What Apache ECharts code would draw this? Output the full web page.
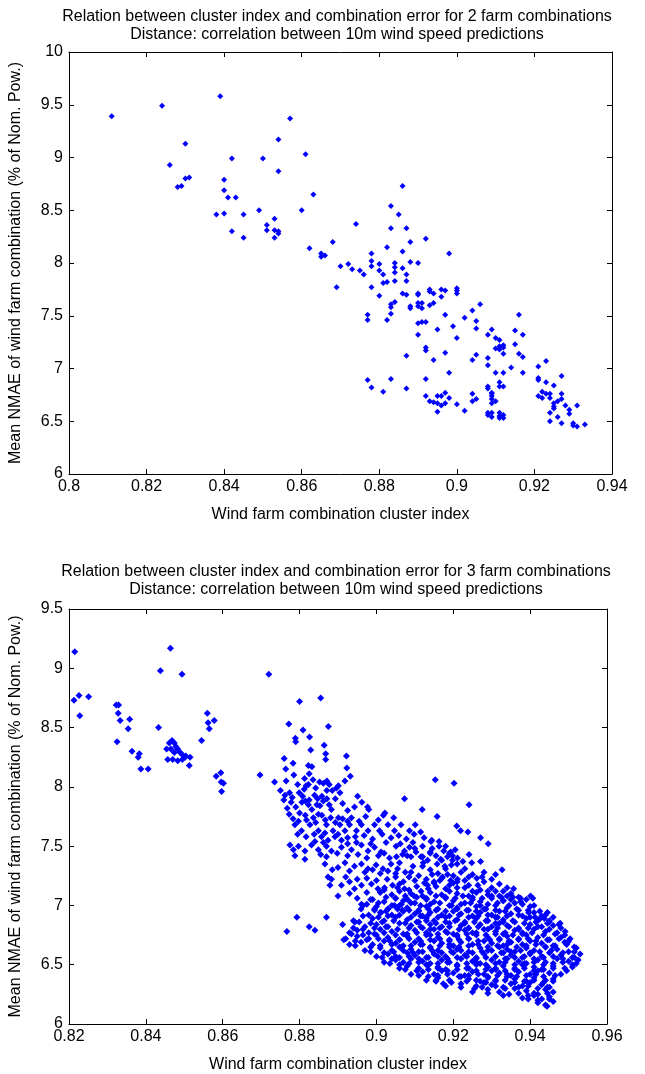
<!DOCTYPE html>
<html>
<head>
<meta charset="utf-8">
<script src="https://cdn.jsdelivr.net/npm/echarts@6/dist/echarts.min.js"></script>
<style>
html,body{margin:0;padding:0;background:#fff;}
#chart{width:645px;height:1074px;}
</style>
</head>
<body>
<div id="chart"></div>
<script>
// ---- Text ----
const topTitle = ['Relation between cluster index and combination error for 2 farm combinations', 'Distance: correlation between 10m wind speed predictions'];
const bottomTitle = ['Relation between cluster index and combination error for 3 farm combinations', 'Distance: correlation between 10m wind speed predictions'];
const xName = 'Wind farm combination cluster index';
const yName = 'Mean NMAE of wind farm combination (% of Nom. Pow.)';

// ---- Axis ranges ----
const topX = {min: 0.80, max: 0.94, interval: 0.02};
const topY = {min: 6, max: 10, interval: 0.5};
const botX = {min: 0.82, max: 0.96, interval: 0.02};
const botY = {min: 6, max: 9.5, interval: 0.5};

// ---- 2 farm combinations: [cluster index, mean NMAE] ----
const twoFarmPoints = [
[0.811,9.39],[0.824,9.49],[0.839,9.58],[0.857,9.37],[0.830,9.13],[0.854,9.17],[0.826,8.93],[0.842,8.99],[0.850,8.99],[0.861,9.03],[0.854,8.87],[0.840,8.79],[0.840,8.69],[0.841,8.62],[0.843,8.62],[0.828,8.72],[0.829,8.73],[0.830,8.80],[0.831,8.81],[0.863,8.65],[0.838,8.46],[0.840,8.47],[0.845,8.46],[0.849,8.50],[0.860,8.50],[0.842,8.30],[0.845,8.24],[0.853,8.42],[0.851,8.36],[0.851,8.31],[0.853,8.31],[0.854,8.30],[0.854,8.28],[0.853,8.24],[0.862,8.14],[0.865,8.09],[0.866,8.07],[0.865,8.06],[0.868,8.20],[0.870,7.97],[0.869,7.77],
[0.886,8.73],[0.883,8.54],[0.885,8.46],[0.883,8.33],[0.887,8.33],[0.874,8.37],[0.892,8.23],[0.888,8.20],[0.882,8.15],[0.886,8.11],[0.878,8.09],[0.898,8.09],[0.872,7.99],[0.873,7.94],[0.875,7.93],[0.876,7.89],[0.878,8.02],[0.880,7.99],[0.880,7.93],[0.881,7.89],[0.884,7.96],[0.884,8.00],[0.884,7.91],[0.886,7.95],[0.887,7.89],[0.888,8.01],[0.890,8.00],[0.887,7.83],[0.884,7.83],[0.881,7.81],[0.882,7.82],[0.878,7.77],[0.893,7.75],[0.896,7.75],[0.900,7.76],
[0.878,7.97],[0.880,7.69],[0.886,7.71],[0.887,7.70],[0.888,7.59],[0.888,7.57],[0.890,7.71],[0.890,7.70],[0.890,7.62],[0.890,7.59],[0.891,7.62],[0.891,7.57],[0.883,7.61],[0.884,7.63],[0.883,7.58],[0.883,7.52],[0.882,7.46],[0.877,7.51],[0.877,7.46],[0.893,7.73],[0.894,7.71],[0.893,7.60],[0.894,7.62],[0.896,7.68],[0.897,7.74],[0.900,7.74],[0.900,7.71],[0.897,7.51],[0.890,7.43],[0.891,7.44],[0.892,7.44],[0.895,7.37],[0.890,7.32],[0.899,7.40],[0.900,7.29],[0.902,7.48],[0.904,7.55],[0.906,7.61],[0.905,7.45],[0.905,7.38],[0.892,7.20],[0.892,7.17],[0.897,7.15],[0.894,7.08],[0.887,7.12],[0.904,7.08],[0.905,7.13],[0.908,7.32],[0.909,7.37],[0.910,7.29],[0.911,7.27],[0.911,7.21],[0.912,7.22],[0.912,7.20],[0.910,7.19],[0.911,7.18],[0.912,7.14],[0.916,7.51],[0.915,7.36],[0.917,7.32],[0.915,7.23],[0.916,7.14],[0.917,7.11],[0.908,7.10],[0.908,7.03],[0.914,7.01],[0.910,6.96],[0.912,6.96],[0.917,6.96],[0.898,6.96],[0.921,7.02],[0.923,7.07],[0.921,6.91],[0.921,6.89],[0.923,6.87],[0.925,6.84],[0.927,6.93],[0.911,6.87],[0.912,6.83],[0.911,6.83],
[0.877,6.89],[0.878,6.82],[0.881,6.78],[0.883,6.90],[0.887,6.81],[0.892,6.90],[0.892,6.74],[0.893,6.69],[0.894,6.68],[0.895,6.74],[0.896,6.74],[0.895,6.67],[0.896,6.65],[0.895,6.59],[0.897,6.77],[0.898,6.72],[0.897,6.67],[0.900,6.66],[0.902,6.60],[0.904,6.76],[0.904,6.69],[0.905,6.71],
[0.908,6.83],[0.908,6.81],[0.909,6.77],[0.909,6.74],[0.909,6.76],[0.909,6.71],[0.910,6.69],[0.909,6.67],
[0.908,6.58],[0.908,6.56],[0.909,6.58],[0.909,6.54],[0.911,6.58],[0.911,6.55],[0.912,6.53],[0.912,6.56],[0.911,6.53],
[0.922,6.78],[0.921,6.74],[0.923,6.76],[0.922,6.72],[0.924,6.76],[0.924,6.72],[0.925,6.67],[0.925,6.64],[0.927,6.76],[0.927,6.71],[0.926,6.69],[0.925,6.62],[0.924,6.58],[0.924,6.50],[0.926,6.54],[0.927,6.48],[0.928,6.65],[0.929,6.61],[0.929,6.57],[0.931,6.65],[0.930,6.48],[0.930,6.46],[0.931,6.45],[0.933,6.47]
];

// ---- 3 farm combinations: [cluster index, mean NMAE] ----
const threeFarmSparse = [
[0.8215,9.14],[0.8213,8.73],[0.8226,8.77],[0.8228,8.60],[0.8251,8.76],[0.8323,8.69],[0.8329,8.69],[0.8328,8.62],[0.8333,8.56],[0.8358,8.57],[0.8354,8.49],[0.8325,8.38],[0.8364,8.30],[0.8383,8.28],[0.8380,8.25],[0.8387,8.15],[0.8406,8.15],[0.8433,8.50],[0.8438,8.98],[0.8464,9.17],[0.8494,8.95],
[0.8468,8.39],[0.8461,8.37],[0.8474,8.37],[0.8478,8.34],[0.8454,8.32],[0.8465,8.32],[0.8483,8.32],[0.8489,8.29],[0.8474,8.29],[0.8495,8.27],[0.8504,8.26],[0.8515,8.25],[0.8457,8.23],[0.8470,8.23],[0.8483,8.22],[0.8495,8.23],[0.8502,8.25],[0.8513,8.18],
[0.8545,8.39],[0.8560,8.62],[0.8562,8.54],[0.8565,8.49],[0.8578,8.56],[0.8583,8.09],[0.8595,8.12],[0.8596,8.04],[0.8602,8.03],[0.8597,7.96],[0.8697,8.10],[0.8720,8.95],[0.8735,8.04],
[0.8767,6.78],[0.8793,6.90],[0.8825,6.82],[0.8840,6.79],[0.8870,6.90],[0.8912,6.84],[0.8944,6.86],[0.8965,7.00],[0.9174,6.34],[0.9155,6.37]
];
const threeFarmBand = [
[0.8800,8.72],[0.8855,8.75],[0.8772,8.53],[0.8809,8.48],[0.8875,8.51],[0.8789,8.41],[0.8790,8.38],[0.8826,8.42],[0.8829,8.31],[0.8864,8.35],[0.8868,8.28],[0.8868,8.23],[0.8922,8.26],[0.8923,8.16],[0.8932,8.09],[0.8760,8.24],[0.8764,8.15],[0.8783,8.20],[0.8823,8.18],[0.8832,8.17],[0.8813,8.07],[0.8825,8.11],[0.8817,8.01],[0.8823,8.02],[0.8852,8.04],[0.8871,8.05],[0.8877,8.02],[0.8896,7.99],[0.8901,8.01],[0.8750,7.97],[0.8759,7.89],[0.8774,7.95],[0.8778,7.87],[0.8799,7.95],[0.8806,7.87],[0.8815,7.88],[0.8823,7.85],[0.8839,7.93],[0.8847,7.90],[0.8858,7.92],[0.8853,7.84],[0.8871,7.90],[0.8877,7.85],[0.8871,7.97],[0.8951,7.92],[0.9073,7.90],[0.9153,8.06],[0.9119,7.81],[0.9158,7.75],[0.8977,7.83],[0.8980,7.81],[0.9022,7.78],[0.8773,7.77],[0.8800,7.78],[0.8815,7.76],[0.8849,7.77],[0.8858,7.76],[0.8881,7.74],[0.8901,7.74],[0.8935,7.74],
[0.9202,8.03],[0.9241,7.85],[0.9209,7.67],[0.9219,7.63],[0.9238,7.62],[0.9271,7.57],[0.9291,7.52],[0.9241,7.43],[0.9248,7.36],[0.9271,7.37],[0.9327,7.30],[0.9144,7.55],[0.9163,7.54],[0.9190,7.44],[0.9198,7.42],
[0.8788,7.68],[0.8805,7.63],[0.8827,7.68],[0.8849,7.63],[0.8870,7.68],[0.8887,7.63],[0.8905,7.68],[0.8918,7.63],[0.8930,7.68],[0.8948,7.63],[0.8961,7.68],[0.8978,7.63],[0.8995,7.68],[0.9008,7.63],[0.9030,7.68],[0.9047,7.63],[0.9064,7.68],[0.9086,7.63],[0.9101,7.68],
[0.8857,7.58],[0.8874,7.55],[0.8892,7.58],[0.8909,7.55],[0.9124,7.57],[0.9142,7.54],[0.9163,7.50],
[0.8775,7.51],[0.8784,7.47],[0.8797,7.50],[0.8814,7.46],[0.8831,7.51],[0.8849,7.47],[0.8870,7.50],[0.8883,7.46],[0.8909,7.49],[0.8935,7.47],[0.8961,7.51],[0.8978,7.46],[0.8995,7.49],[0.9012,7.45],[0.9051,7.50],[0.9073,7.46],[0.9086,7.49],[0.9103,7.45],[0.9180,7.50],[0.9193,7.45],
[0.8788,7.42],[0.8814,7.39],[0.9034,7.40],[0.9116,7.41],[0.9133,7.38],[0.9155,7.42],[0.9167,7.39],[0.9185,7.41],[0.9198,7.38],[0.9211,7.40],
[0.8866,7.35],[0.8900,7.32],[0.8918,7.36],[0.8943,7.33],[0.8961,7.35],[0.8978,7.31],[0.8999,7.34],[0.9017,7.31],[0.9038,7.35],
[0.8874,7.24],[0.8883,7.22],[0.8879,7.17],[0.8909,7.17],[0.8930,7.20],[0.8943,7.14],[0.8961,7.17],[0.8987,7.18],[0.9004,7.14],[0.9021,7.15],[0.9042,7.17],[0.9060,7.18],[0.9073,7.14],
[0.8900,7.08],[0.8961,7.01],[0.8995,6.97],[0.9012,6.94],[0.9030,6.97],[0.9047,7.00],[0.9068,6.96],[0.9081,7.05],[0.9098,7.08],[0.9116,7.12],[0.9133,7.17],[0.9150,7.20],[0.9172,7.24],[0.9193,7.21],[0.9211,7.22],
[0.912,7.33],[0.914,7.30],[0.916,7.27],[0.918,7.31],[0.920,7.25],[0.922,7.28],[0.924,7.24],[0.913,7.22],[0.915,7.19],[0.917,7.23],[0.919,7.17],[0.921,7.20],[0.923,7.15],[0.925,7.12],[0.912,7.41],[0.914,7.45],[0.917,7.38],[0.921,7.35],[0.923,7.31],[0.910,7.48],[0.908,7.42],[0.906,7.36],[0.909,7.28],[0.911,7.25],[0.905,7.24],[0.907,7.20],[0.928,7.28],[0.930,7.22],[0.931,7.26],[0.929,7.12],[0.932,7.08],[0.935,7.10],[0.937,7.07],[0.933,7.04],
[0.9261,7.23],[0.9280,7.20],[0.9264,7.17],[0.9320,7.18],[0.9340,7.15],[0.9357,7.14],[0.9401,7.08],[0.9407,7.06],[0.9375,7.03],[0.9445,6.94],[0.9450,6.87],[0.9437,6.89],[0.9478,6.85],[0.9491,6.78],[0.9504,6.72],[0.9498,6.69],[0.9396,6.94],[0.9413,6.90],[0.9426,6.89]
];
const threeFarmBandFill = [
[0.8765,8.05],[0.8785,8.10],[0.8795,8.02],[0.8812,7.98],[0.8835,8.06],[0.8842,7.99],[0.8862,8.03],[0.8885,7.97],[0.8905,7.95],[0.8918,8.05],
[0.8762,7.93],[0.8781,7.91],[0.8790,7.83],[0.8808,7.92],[0.8825,7.89],[0.8832,7.81],[0.8845,7.85],[0.8862,7.88],[0.8883,7.81],[0.8893,7.90],[0.8912,7.86],[0.8925,7.80],[0.8943,7.83],[0.8962,7.87],
[0.8768,7.82],[0.8783,7.73],[0.8797,7.71],[0.8818,7.72],[0.8836,7.74],[0.8842,7.70],[0.8867,7.72],[0.8893,7.70],[0.8912,7.73],[0.8925,7.71],[0.8955,7.71],[0.8972,7.75],[0.9005,7.72],[0.9018,7.76],[0.9045,7.74],
[0.8795,7.60],[0.8817,7.58],[0.8838,7.60],[0.8866,7.61],[0.8900,7.60],[0.8925,7.57],[0.8945,7.58],[0.8968,7.59],[0.8990,7.56],[0.9015,7.60],[0.9038,7.57],[0.9058,7.59],[0.9078,7.56],[0.9098,7.60],[0.9115,7.62],
[0.8840,7.54],[0.8862,7.53],[0.8925,7.52],[0.8948,7.53],[0.8985,7.52],[0.9025,7.53],[0.9062,7.52],[0.9095,7.53],[0.9120,7.50],[0.9145,7.48],
[0.8855,7.43],[0.8870,7.41],[0.8898,7.44],[0.8925,7.42],[0.8952,7.43],[0.8975,7.40],[0.9005,7.42],[0.9020,7.44],[0.9052,7.41],[0.9068,7.43],[0.9090,7.41],[0.9140,7.44],[0.9175,7.46],[0.9205,7.47],
[0.8885,7.30],[0.8930,7.29],[0.8970,7.28],[0.8990,7.30],[0.9010,7.27],[0.9030,7.29],[0.9055,7.31],[0.9075,7.28],[0.9095,7.33],[0.9122,7.36],[0.9158,7.35],[0.9178,7.33],[0.9195,7.34],[0.9225,7.37],
[0.8920,7.24],[0.8950,7.22],[0.8975,7.23],[0.9000,7.21],[0.9028,7.22],[0.9050,7.27],[0.9085,7.24],[0.9100,7.21],[0.9125,7.19],[0.9145,7.26],[0.9165,7.21],[0.9185,7.26],[0.9200,7.19],[0.9230,7.21],[0.9250,7.26],[0.9275,7.24],
[0.8930,7.10],[0.8950,7.06],[0.8975,7.11],[0.8985,7.05],[0.9020,7.13],[0.9055,7.15],[0.9085,7.13],[0.9105,7.16],[0.9135,7.14],[0.9155,7.16],[0.9180,7.14],[0.9210,7.15],[0.9240,7.17],[0.9270,7.13],[0.9300,7.15],[0.9330,7.12],[0.9355,7.07]
];
const threeFarmCore = [
[0.901,7.11],[0.904,7.09],[0.906,7.12],[0.909,7.10],[0.912,7.08],[0.914,7.11],[0.917,7.09],[0.919,7.12],[0.921,7.10],[0.924,7.08],[0.926,7.11],[0.929,7.09],[0.931,7.12],[0.934,7.08],
[0.899,7.05],[0.902,7.03],[0.905,7.06],[0.907,7.04],[0.910,7.02],[0.913,7.05],[0.915,7.03],[0.918,7.06],[0.920,7.04],[0.923,7.02],[0.925,7.05],[0.927,7.03],[0.930,7.06],[0.933,7.04],[0.936,7.02],[0.939,7.05],
[0.896,6.97],[0.900,6.99],[0.903,6.97],[0.906,7.00],[0.908,6.98],[0.911,6.96],[0.913,6.99],[0.916,6.97],[0.919,7.00],[0.921,6.98],[0.924,6.96],[0.926,6.99],[0.928,6.97],[0.931,7.00],[0.934,6.98],[0.937,6.96],[0.940,6.99],
[0.898,6.92],[0.901,6.94],[0.904,6.92],[0.907,6.95],[0.910,6.93],[0.912,6.91],[0.914,6.94],[0.917,6.92],[0.920,6.95],[0.922,6.93],[0.925,6.91],[0.927,6.94],[0.930,6.92],[0.932,6.95],[0.935,6.93],[0.938,6.91],[0.941,6.94],[0.944,6.92],
[0.894,6.87],[0.899,6.89],[0.902,6.87],[0.905,6.90],[0.908,6.88],[0.911,6.86],[0.913,6.89],[0.915,6.87],[0.918,6.90],[0.921,6.88],[0.923,6.86],[0.926,6.89],[0.929,6.87],[0.931,6.90],[0.933,6.88],[0.936,6.86],[0.939,6.89],[0.942,6.87],[0.945,6.86],
[0.897,6.82],[0.900,6.84],[0.903,6.82],[0.906,6.85],[0.909,6.83],[0.912,6.81],[0.914,6.84],[0.917,6.82],[0.919,6.85],[0.922,6.83],[0.924,6.81],[0.927,6.84],[0.930,6.82],[0.932,6.85],[0.934,6.83],[0.937,6.81],[0.940,6.84],[0.943,6.82],[0.946,6.83],
[0.893,6.77],[0.895,6.79],[0.898,6.77],[0.901,6.80],[0.904,6.78],[0.907,6.76],[0.910,6.79],[0.913,6.77],[0.915,6.80],[0.918,6.78],[0.920,6.76],[0.923,6.79],[0.925,6.77],[0.928,6.80],[0.931,6.78],[0.933,6.76],[0.936,6.79],[0.938,6.77],[0.941,6.80],[0.944,6.78],[0.947,6.77],
[0.892,6.72],[0.895,6.74],[0.898,6.72],[0.900,6.75],[0.903,6.73],[0.906,6.71],[0.908,6.74],[0.911,6.72],[0.914,6.75],[0.916,6.73],[0.919,6.71],[0.921,6.74],[0.924,6.72],[0.926,6.75],[0.929,6.73],[0.932,6.71],[0.934,6.74],[0.937,6.72],[0.939,6.75],[0.942,6.73],[0.945,6.71],[0.948,6.73],
[0.893,6.67],[0.896,6.69],[0.899,6.67],[0.902,6.70],[0.905,6.68],[0.907,6.66],[0.910,6.69],[0.912,6.67],[0.915,6.70],[0.917,6.68],[0.920,6.66],[0.922,6.69],[0.925,6.67],[0.928,6.70],[0.930,6.68],[0.933,6.66],[0.935,6.69],[0.938,6.67],[0.940,6.70],[0.943,6.68],[0.946,6.66],[0.949,6.69],
[0.897,6.62],[0.901,6.64],[0.904,6.62],[0.906,6.65],[0.909,6.63],[0.911,6.61],[0.914,6.64],[0.916,6.62],[0.919,6.65],[0.921,6.63],[0.924,6.61],[0.927,6.64],[0.929,6.62],[0.932,6.65],[0.934,6.63],[0.936,6.61],[0.939,6.64],[0.941,6.62],[0.944,6.65],[0.947,6.63],[0.950,6.61],[0.952,6.64],
[0.900,6.57],[0.903,6.59],[0.905,6.57],[0.908,6.60],[0.910,6.58],[0.913,6.56],[0.915,6.59],[0.918,6.57],[0.920,6.60],[0.923,6.58],[0.926,6.56],[0.928,6.59],[0.931,6.57],[0.933,6.60],[0.935,6.58],[0.938,6.56],[0.940,6.59],[0.943,6.57],[0.945,6.60],[0.948,6.58],[0.951,6.56],[0.953,6.59],
[0.902,6.52],[0.905,6.54],[0.907,6.52],[0.909,6.55],[0.912,6.53],[0.914,6.51],[0.917,6.54],[0.919,6.52],[0.922,6.55],[0.925,6.53],[0.927,6.51],[0.930,6.54],[0.932,6.52],[0.934,6.55],[0.937,6.53],[0.939,6.51],[0.942,6.54],[0.944,6.52],[0.947,6.55],[0.950,6.53],[0.952,6.51],
[0.906,6.47],[0.908,6.49],[0.911,6.47],[0.913,6.50],[0.916,6.48],[0.918,6.46],[0.921,6.49],[0.924,6.47],[0.926,6.50],[0.929,6.48],[0.931,6.46],[0.933,6.49],[0.936,6.47],[0.938,6.50],[0.941,6.48],[0.943,6.46],[0.946,6.49],[0.949,6.47],[0.951,6.48],
[0.909,6.42],[0.912,6.44],[0.915,6.42],[0.917,6.45],[0.920,6.43],[0.923,6.41],[0.925,6.44],[0.928,6.42],[0.930,6.45],[0.932,6.43],[0.935,6.41],[0.937,6.44],[0.940,6.42],[0.942,6.45],[0.945,6.43],[0.948,6.42],
[0.913,6.37],[0.916,6.39],[0.919,6.37],[0.922,6.40],[0.924,6.38],[0.927,6.36],[0.929,6.39],[0.931,6.37],[0.934,6.40],[0.936,6.38],[0.939,6.36],[0.941,6.39],[0.944,6.37],[0.946,6.38],
[0.918,6.32],[0.922,6.34],[0.926,6.32],[0.928,6.35],[0.930,6.33],[0.933,6.31],[0.935,6.34],[0.938,6.32],[0.940,6.35],[0.943,6.33],[0.945,6.31],
[0.925,6.27],[0.929,6.29],[0.932,6.27],[0.936,6.30],[0.939,6.28],[0.941,6.26],[0.944,6.29],[0.946,6.27],
[0.933,6.24],[0.938,6.22],[0.941,6.24],[0.943,6.21],[0.945,6.23],
[0.942,6.18],[0.944,6.16],[0.946,6.19],[0.9444,6.15]
];
const threeFarmCoreFill = [
[0.9025,7.07],[0.9050,7.06],[0.9075,7.08],[0.9105,7.07],[0.9130,7.06],[0.9155,7.08],[0.9180,7.07],[0.9205,7.06],[0.9225,7.08],[0.9250,7.07],[0.9275,7.06],[0.9300,7.08],[0.9325,7.07],[0.9350,7.05],[0.9375,7.06],
[0.8975,7.01],[0.9005,7.02],[0.9040,7.00],[0.9065,7.01],[0.9090,7.02],[0.9115,7.00],[0.9140,7.01],[0.9165,7.02],[0.9195,7.00],[0.9220,7.01],[0.9245,7.02],[0.9270,7.00],[0.9290,7.01],[0.9315,7.02],[0.9345,7.00],[0.9380,7.01],[0.9410,7.00],
[0.8995,6.96],[0.9025,6.95],[0.9055,6.97],[0.9085,6.96],[0.9110,6.95],[0.9135,6.97],[0.9155,6.96],[0.9180,6.95],[0.9210,6.97],[0.9235,6.96],[0.9260,6.95],[0.9285,6.97],[0.9310,6.96],[0.9335,6.95],[0.9365,6.97],[0.9395,6.96],[0.9425,6.95],
[0.8965,6.91],[0.9005,6.90],[0.9030,6.91],[0.9060,6.92],[0.9090,6.90],[0.9115,6.91],[0.9135,6.92],[0.9160,6.90],[0.9190,6.91],[0.9215,6.92],[0.9240,6.90],[0.9265,6.91],[0.9290,6.92],[0.9315,6.90],[0.9340,6.91],[0.9370,6.92],[0.9400,6.90],[0.9430,6.91],[0.9460,6.90],
[0.8955,6.86],[0.8985,6.85],[0.9015,6.86],[0.9045,6.87],[0.9075,6.85],[0.9105,6.86],[0.9130,6.87],[0.9155,6.85],[0.9180,6.86],[0.9205,6.87],[0.9230,6.85],[0.9255,6.86],[0.9285,6.87],[0.9310,6.85],[0.9330,6.86],[0.9355,6.87],[0.9385,6.85],[0.9415,6.86],[0.9445,6.85],[0.9475,6.84],
[0.8940,6.81],[0.8965,6.80],[0.8995,6.81],[0.9025,6.82],[0.9055,6.80],[0.9085,6.81],[0.9115,6.82],[0.9140,6.80],[0.9165,6.81],[0.9190,6.82],[0.9215,6.80],[0.9240,6.81],[0.9265,6.82],[0.9290,6.80],[0.9315,6.81],[0.9345,6.82],[0.9370,6.80],[0.9395,6.81],[0.9420,6.82],[0.9450,6.80],[0.9480,6.81],
[0.8935,6.76],[0.8965,6.75],[0.8995,6.76],[0.9020,6.77],[0.9050,6.75],[0.9080,6.76],[0.9105,6.77],[0.9130,6.75],[0.9160,6.76],[0.9185,6.77],[0.9210,6.75],[0.9235,6.76],[0.9260,6.77],[0.9285,6.75],[0.9310,6.76],[0.9335,6.77],[0.9355,6.75],[0.9380,6.76],[0.9405,6.77],[0.9435,6.75],[0.9465,6.76],[0.9490,6.75],
[0.8915,6.71],[0.8945,6.70],[0.8975,6.71],[0.9005,6.72],[0.9035,6.70],[0.9060,6.71],[0.9085,6.72],[0.9115,6.70],[0.9140,6.71],[0.9165,6.72],[0.9190,6.70],[0.9215,6.71],[0.9240,6.72],[0.9265,6.70],[0.9295,6.71],[0.9320,6.72],[0.9345,6.70],[0.9370,6.71],[0.9395,6.72],[0.9415,6.70],[0.9445,6.71],[0.9475,6.72],[0.9500,6.70],
[0.8945,6.66],[0.8985,6.65],[0.9010,6.66],[0.9040,6.67],[0.9065,6.65],[0.9090,6.66],[0.9115,6.67],[0.9140,6.65],[0.9165,6.66],[0.9190,6.67],[0.9215,6.65],[0.9240,6.66],[0.9265,6.67],[0.9290,6.65],[0.9315,6.66],[0.9340,6.67],[0.9365,6.65],[0.9390,6.66],[0.9415,6.67],[0.9440,6.65],[0.9465,6.66],[0.9495,6.67],[0.9515,6.65],
[0.8985,6.61],[0.9020,6.60],[0.9045,6.61],[0.9070,6.62],[0.9095,6.60],[0.9120,6.61],[0.9145,6.62],[0.9170,6.60],[0.9195,6.61],[0.9220,6.62],[0.9250,6.60],[0.9275,6.61],[0.9300,6.62],[0.9325,6.60],[0.9350,6.61],[0.9375,6.62],[0.9400,6.60],[0.9425,6.61],[0.9455,6.62],[0.9485,6.60],[0.9515,6.61],
[0.9015,6.56],[0.9040,6.55],[0.9060,6.56],[0.9085,6.57],[0.9110,6.55],[0.9135,6.56],[0.9160,6.57],[0.9185,6.55],[0.9210,6.56],[0.9235,6.57],[0.9260,6.55],[0.9285,6.56],[0.9310,6.57],[0.9335,6.55],[0.9360,6.56],[0.9385,6.57],[0.9410,6.55],[0.9435,6.56],[0.9460,6.57],[0.9485,6.55],[0.9515,6.56],[0.9525,6.54],
[0.9035,6.51],[0.9060,6.50],[0.9085,6.51],[0.9110,6.52],[0.9135,6.50],[0.9160,6.51],[0.9185,6.52],[0.9210,6.50],[0.9235,6.51],[0.9260,6.52],[0.9285,6.50],[0.9310,6.51],[0.9335,6.52],[0.9360,6.50],[0.9385,6.51],[0.9410,6.52],[0.9435,6.50],[0.9460,6.51],[0.9485,6.52],[0.9510,6.50],
[0.9075,6.46],[0.9105,6.45],[0.9135,6.46],[0.9160,6.47],[0.9185,6.45],[0.9210,6.46],[0.9235,6.47],[0.9260,6.45],[0.9285,6.46],[0.9310,6.47],[0.9335,6.45],[0.9360,6.46],[0.9385,6.47],[0.9410,6.45],[0.9435,6.46],[0.9460,6.47],[0.9495,6.45],
[0.9110,6.41],[0.9135,6.40],[0.9160,6.41],[0.9185,6.42],[0.9215,6.40],[0.9240,6.41],[0.9265,6.42],[0.9290,6.40],[0.9315,6.41],[0.9340,6.42],[0.9365,6.40],[0.9390,6.41],[0.9415,6.42],[0.9435,6.40],[0.9465,6.41],
[0.9155,6.36],[0.9195,6.35],[0.9235,6.36],[0.9260,6.37],[0.9285,6.35],[0.9310,6.36],[0.9335,6.37],[0.9360,6.35],[0.9385,6.36],[0.9410,6.37],[0.9435,6.35],[0.9460,6.36],
[0.9220,6.31],[0.9255,6.30],[0.9275,6.31],[0.9310,6.32],[0.9335,6.30],[0.9370,6.31],[0.9395,6.32],[0.9420,6.30],[0.9445,6.31],
[0.9290,6.26],[0.9345,6.25],[0.9370,6.26],[0.9395,6.24],[0.9420,6.25],[0.9445,6.26],
[0.9395,6.21],[0.9420,6.20],[0.9450,6.21]
];

// ---- Chart ----
const FONT = '"Liberation Sans", Arial, Helvetica, sans-serif';
const MARK = '#0000ff';
const INK = '#000000';
const FS = 16;

function xPair(gridIndex, r) {
  const base = {
    gridIndex, type: 'value', min: r.min, max: r.max, interval: r.interval,
    splitLine: {show: false},
    axisLine: {show: true, onZero: false, lineStyle: {color: INK, width: 1}},
    axisTick: {show: true, inside: true, length: 5, lineStyle: {color: INK}},
  };
  return [
    Object.assign({}, base, {
      position: 'bottom',
      axisLabel: {show: true, color: INK, fontFamily: FONT, fontSize: FS, margin: 5,
        formatter: v => String(+v.toFixed(2))},
      name: xName, nameLocation: 'middle', nameGap: 33,
      nameTextStyle: {color: INK, fontFamily: FONT, fontSize: FS}
    }),
    Object.assign({}, base, {position: 'top', axisLabel: {show: false}})
  ];
}
function yPair(gridIndex, r) {
  const base = {
    gridIndex, type: 'value', min: r.min, max: r.max, interval: r.interval,
    splitLine: {show: false},
    axisLine: {show: true, onZero: false, lineStyle: {color: INK, width: 1}},
    axisTick: {show: true, inside: true, length: 5, lineStyle: {color: INK}},
  };
  return [
    Object.assign({}, base, {
      position: 'left',
      axisLabel: {show: true, color: INK, fontFamily: FONT, fontSize: FS, margin: 6,
        formatter: v => String(+v.toFixed(2))},
      name: yName, nameLocation: 'middle', nameGap: 45, nameRotate: 90,
      nameTextStyle: {color: INK, fontFamily: FONT, fontSize: FS}
    }),
    Object.assign({}, base, {position: 'right', axisLabel: {show: false}})
  ];
}

const chart = echarts.init(document.getElementById('chart'), null, {renderer: 'canvas'});
const titleStyle = {fill: INK, font: FS + 'px ' + FONT, textAlign: 'center', textVerticalAlign: 'middle'};

chart.setOption({
  animation: false,
  backgroundColor: '#ffffff',
  grid: [
    {left: 66, top: 52, width: 546, height: 422},
    {left: 65, top: 609, width: 542, height: 416}
  ],
  xAxis: [].concat(xPair(0, topX), xPair(1, botX)),
  yAxis: [].concat(yPair(0, topY), yPair(1, botY)),
  graphic: [
    {type: 'text', x: 337, y: 17, style: Object.assign({text: topTitle[0]}, titleStyle)},
    {type: 'text', x: 337, y: 35, style: Object.assign({text: topTitle[1]}, titleStyle)},
    {type: 'text', x: 336, y: 572, style: Object.assign({text: bottomTitle[0]}, titleStyle)},
    {type: 'text', x: 336, y: 590, style: Object.assign({text: bottomTitle[1]}, titleStyle)}
  ],
  series: [
    {type: 'scatter', xAxisIndex: 0, yAxisIndex: 0, data: twoFarmPoints,
     symbol: 'diamond', symbolSize: 6, itemStyle: {color: MARK, opacity: 1}, silent: true},
    {type: 'scatter', xAxisIndex: 2, yAxisIndex: 2,
     data: threeFarmSparse.concat(threeFarmBand, threeFarmBandFill, threeFarmCore, threeFarmCoreFill),
     symbol: 'diamond', symbolSize: 7, itemStyle: {color: MARK, opacity: 1}, silent: true, large: false}
  ]
});
</script>
</body>
</html>
